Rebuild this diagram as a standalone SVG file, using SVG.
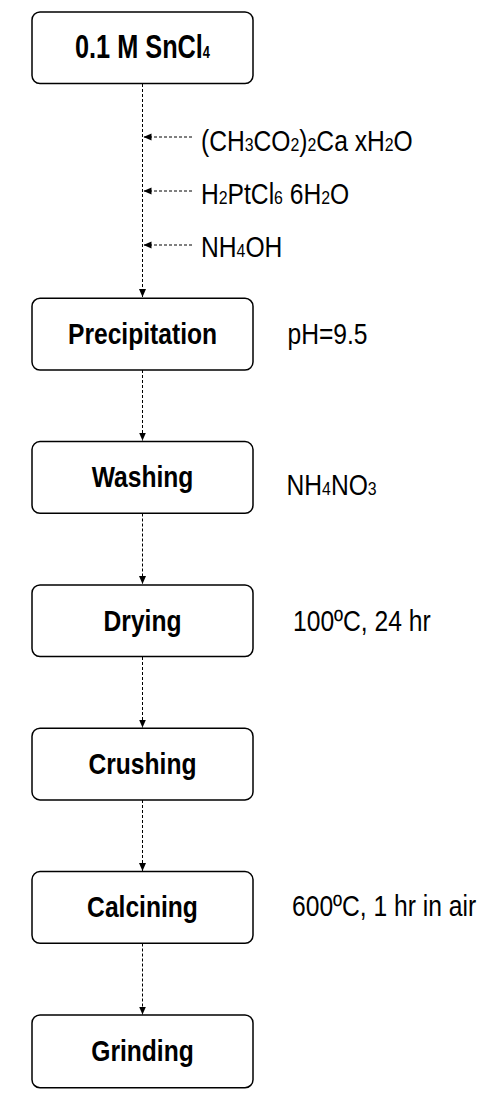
<svg xmlns="http://www.w3.org/2000/svg" width="486" height="1104" viewBox="0 0 486 1104">
<style>
.box{fill:#fff;stroke:#000;stroke-width:1.5}
.lbl{font-family:"Liberation Sans",Arial,sans-serif;font-weight:bold;font-size:29.5px;text-anchor:middle;fill:#000}
.ttl{font-size:33.5px}
.tsub{font-size:17px}
.note{font-family:"Liberation Sans",Arial,sans-serif;font-size:29.5px;fill:#000}
.sub{font-size:19px}
.dash{stroke:#000;stroke-width:1;stroke-dasharray:3 2;fill:none}
</style>
<defs>
<marker id="ah" markerUnits="userSpaceOnUse" markerWidth="9" markerHeight="8" refX="8" refY="3.5" orient="auto">
<path d="M0,0 L8,3.5 L0,7 z" fill="#000"/>
</marker>
</defs>
<g id="connectors">
<line class="dash" x1="142.5" y1="84" x2="142.5" y2="297" marker-end="url(#ah)"/>
<line class="dash" x1="192" y1="137" x2="143.5" y2="137" marker-end="url(#ah)"/>
<line class="dash" x1="192" y1="191" x2="143.5" y2="191" marker-end="url(#ah)"/>
<line class="dash" x1="192" y1="245" x2="143.5" y2="245" marker-end="url(#ah)"/>
<line class="dash" x1="142.5" y1="370" x2="142.5" y2="440.5" marker-end="url(#ah)"/>
<line class="dash" x1="142.5" y1="513.5" x2="142.5" y2="584" marker-end="url(#ah)"/>
<line class="dash" x1="142.5" y1="657" x2="142.5" y2="727.5" marker-end="url(#ah)"/>
<line class="dash" x1="142.5" y1="800" x2="142.5" y2="871" marker-end="url(#ah)"/>
<line class="dash" x1="142.5" y1="943.5" x2="142.5" y2="1014.5" marker-end="url(#ah)"/>
</g>
<g id="n0">
<rect class="box" x="32" y="12" width="221" height="71.5" rx="8"/>
<text class="lbl ttl" transform="translate(142.5,57.5) scale(0.755,1)">0.1 M SnCl<tspan class="tsub">4</tspan></text>
</g>
<g id="reagents">
<text class="note" transform="translate(201,151) scale(0.835,1)">(CH<tspan class="sub">3</tspan>CO<tspan class="sub">2</tspan>)<tspan class="sub">2</tspan>Ca xH<tspan class="sub">2</tspan>O</text>
<text class="note" transform="translate(201,204) scale(0.835,1)">H<tspan class="sub">2</tspan>PtCl<tspan class="sub">6</tspan> 6H<tspan class="sub">2</tspan>O</text>
<text class="note" transform="translate(201,257) scale(0.835,1)">NH<tspan class="sub">4</tspan>OH</text>
</g>
<g id="n1">
<rect class="box" x="32" y="298.3" width="221" height="71.7" rx="8"/>
<text class="lbl" transform="translate(142.5,343.5) scale(0.835,1)">Precipitation</text>
<text class="note" transform="translate(287.5,343.5) scale(0.835,1)">pH=9.5</text>
</g>
<g id="n2">
<rect class="box" x="32" y="441.6" width="221" height="71.7" rx="8"/>
<text class="lbl" transform="translate(142.5,487) scale(0.835,1)">Washing</text>
<text class="note" transform="translate(286.5,495) scale(0.835,1)">NH<tspan class="sub">4</tspan>NO<tspan class="sub">3</tspan></text>
</g>
<g id="n3">
<rect class="box" x="32" y="584.9" width="221" height="71.7" rx="8"/>
<text class="lbl" transform="translate(142.5,630.5) scale(0.835,1)">Drying</text>
<text class="note" transform="translate(293,630.5) scale(0.835,1)">100ºC, 24 hr</text>
</g>
<g id="n4">
<rect class="box" x="32" y="728.2" width="221" height="71.7" rx="8"/>
<text class="lbl" transform="translate(142.5,774) scale(0.835,1)">Crushing</text>
</g>
<g id="n5">
<rect class="box" x="32" y="871.6" width="221" height="71.7" rx="8"/>
<text class="lbl" transform="translate(142.5,917) scale(0.835,1)">Calcining</text>
<text class="note" transform="translate(292,915.5) scale(0.835,1)">600ºC, 1 hr in air</text>
</g>
<g id="n6">
<rect class="box" x="32" y="1015" width="221" height="72.7" rx="8"/>
<text class="lbl" transform="translate(142.5,1060.5) scale(0.835,1)">Grinding</text>
</g>
</svg>
